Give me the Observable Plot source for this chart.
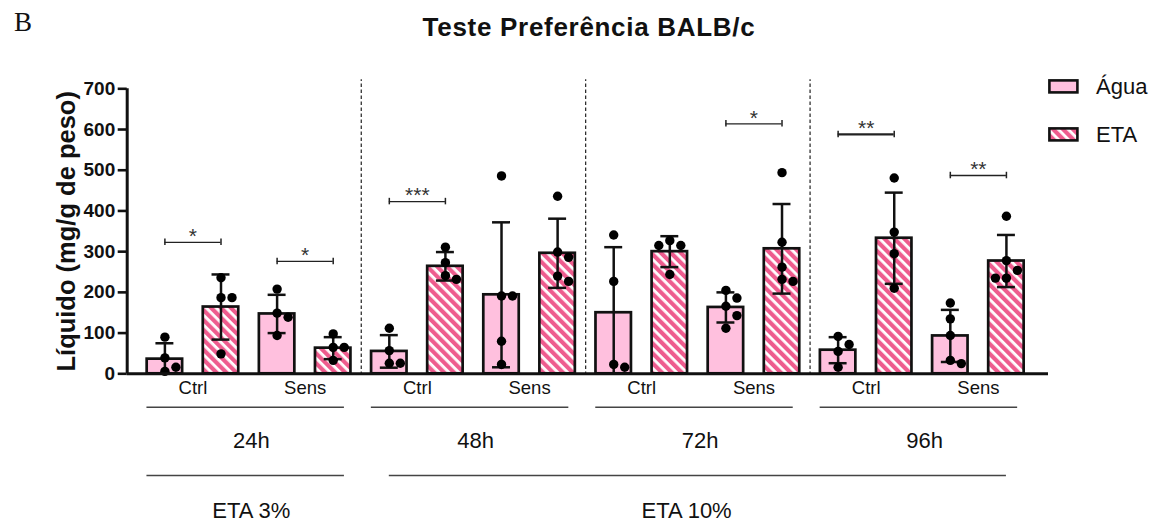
<!DOCTYPE html>
<html><head><meta charset="utf-8">
<script src="https://cdn.jsdelivr.net/npm/d3@7"></script>
<script src="https://cdn.jsdelivr.net/npm/@observablehq/plot@0.6"></script>
<style>
html,body{margin:0;padding:0;background:#fff;}
#wrap{position:relative;width:1156px;height:525px;overflow:hidden;font-family:"Liberation Sans",Arial,sans-serif;}
#panel{position:absolute;left:14px;top:7px;font-family:"Liberation Serif","Times New Roman",serif;font-size:27px;color:#111;}
#title{position:absolute;left:589px;top:12px;transform:translateX(-50%);font-weight:bold;font-size:26px;letter-spacing:0.7px;white-space:nowrap;color:#111;}
#chart{position:absolute;left:0;top:60px;}
#legend{position:absolute;left:1048px;top:74px;font-size:22px;color:#111;}
#legend .row{display:flex;align-items:center;height:25px;margin-bottom:23px;}
#legend svg{margin-right:17px;}
</style></head>
<body><div id="wrap">
<div id="panel">B</div>
<div id="title">Teste Preferência BALB/c</div>
<div id="chart"></div>
<div id="legend"></div>
</div>
<script>
// ---- data ----
const times = ["24h", "48h", "72h", "96h"];
const groups = ["Ctrl", "Sens"];
const series = ["Água", "ETA"];
const concentrations = ["ETA 3%", "ETA 10%"];
const concentrationTimes = [["24h"], ["48h", "72h", "96h"]];
const yTicks = [0, 100, 200, 300, 400, 500, 600, 700];
// bar order: time -> group -> series
const means = [36, 164, 147, 63, 55, 264, 194, 296, 150, 300, 163, 307, 58, 333, 93, 277];
const sds = [39, 80, 47, 27, 40, 35, 178, 85, 161, 38, 37, 110, 32, 112, 64, 64];
const points = [
  [90, 39, 16, 6], [236, 187, 187, 49], [208, 149, 139, 94], [98, 65, 65, 33],
  [112, 57, 26, 26], [311, 273, 241, 232], [486, 191, 191, 80, 23], [436, 299, 286, 240, 227],
  [341, 227, 23, 16], [327, 315, 315, 244], [205, 186, 166, 143, 112], [494, 323, 262, 232, 227],
  [92, 72, 55, 16], [481, 348, 295, 210], [174, 135, 94, 33, 25], [387, 278, 254, 235, 235]
];
const sigTimes = ["24h", "24h", "48h", "72h", "96h", "96h"];
const sigGroups = ["Ctrl", "Sens", "Ctrl", "Sens", "Ctrl", "Sens"];
const sigLabels = ["*", "*", "***", "*", "**", "**"];
const sigValues = [323, 276, 423, 614, 588, 487];

// ---- build tables ----
const bars = [];
times.forEach((t, ti) => groups.forEach((g, gi) => series.forEach((s, si) => {
  const i = ti * 4 + gi * 2 + si;
  bars.push({i, time: t, group: g, series: s, mean: means[i], sd: sds[i],
    lo: means[i] - sds[i], hi: means[i] + sds[i]});
})));
const idx = (t, g, s) => times.indexOf(t) * 4 + groups.indexOf(g) * 2 + series.indexOf(s);

// layout constants (px)
const W = 1156, H = 465;
const mL = 126.7, mR = 108, mT = 28.3, mB = 151.7;
const xDom = [-0.672, 15.75];
const pxPerX = (W - mL - mR) / (xDom[1] - xDom[0]);
const pxPerY = (H - mT - mB) / 700;
const tickLen = 9 / pxPerX; // tick length converted to x units

// simple swarm so that overlapping dots spread sideways (computed, not typed)
const dots = [];
points.forEach((vals, i) => {
  const placed = [];
  [...vals].sort((a, b) => b - a).forEach(v => {
    const cands = [0, 11, -11, 22, -22];
    let off = 0;
    for (const c of cands) {
      const ok = placed.every(p => Math.hypot((p.off - c), (p.v - v) * pxPerY) >= 10);
      if (ok) { off = c; break; }
    }
    placed.push({v, off});
    dots.push({x: i + off / pxPerX, v});
  });
});

const sig = sigLabels.map((lab, k) => ({
  label: lab, value: sigValues[k],
  x1: idx(sigTimes[k], sigGroups[k], "Água"), x2: idx(sigTimes[k], sigGroups[k], "ETA"),
  bold: sigTimes[k] === "96h" && sigGroups[k] === "Ctrl"
}));

const groupLabels = [];
times.forEach((t, ti) => groups.forEach((g, gi) => groupLabels.push({label: g, x: ti * 4 + gi * 2 + 0.5})));
const timeSpans = times.map((t, ti) => ({label: t, first: ti * 4, last: ti * 4 + 3}));
const concSpans = concentrations.map((c, k) => {
  const ids = concentrationTimes[k].map(t => times.indexOf(t));
  return {label: c, first: d3.min(ids) * 4, last: d3.max(ids) * 4 + 3, k};
});
const separators = times.slice(1).map((t, ti) => (ti + 1) * 4 - 0.5);

const PINK = "#ffc0de", HOT = "#ee5c8e";
const FONT = "Liberation Sans, Arial, sans-serif";
const zero = () => 0;

const chart = Plot.plot({
  width: W, height: H,
  marginLeft: mL, marginRight: mR, marginTop: mT, marginBottom: mB,
  x: {type: "linear", domain: xDom, axis: null},
  y: {type: "linear", domain: [0, 700], axis: null},
  style: {fontFamily: FONT, background: "white", overflow: "visible", color: "#111"},
  marks: [
    // dashed separators between time groups
    Plot.ruleX(separators, {y1: -4, y2: 722, stroke: "#222", strokeWidth: 1.2, strokeDasharray: "3.5,2.5"}),
    // bars
    Plot.rectY(bars.filter(d => d.series === "Água"), {x1: d => d.i - 0.316, x2: d => d.i + 0.316, y1: 0, y2: "mean", fill: PINK, stroke: "#111", strokeWidth: 2.7}),
    Plot.rectY(bars.filter(d => d.series === "ETA"), {x1: d => d.i - 0.316, x2: d => d.i + 0.316, y1: 0, y2: "mean", fill: "url(#eta-stripes)", stroke: "#111", strokeWidth: 2.7}),
    // error bars (mean ± SD)
    Plot.ruleX(bars, {x: "i", y1: d => Math.max(0, d.lo), y2: "hi", stroke: "#111", strokeWidth: 2.5}),
    Plot.ruleY(bars, {x1: d => d.i - 0.16, x2: d => d.i + 0.16, y: "hi", stroke: "#111", strokeWidth: 2.5}),
    Plot.ruleY(bars.filter(d => d.lo > 0), {x1: d => d.i - 0.16, x2: d => d.i + 0.16, y: "lo", stroke: "#111", strokeWidth: 2.5}),
    // individual animals
    Plot.dot(dots, {x: "x", y: "v", r: 4.7, fill: "#000"}),
    // y axis: ticks, labels, line
    Plot.ruleY(yTicks, {y: d => d, x1: xDom[0] - tickLen, x2: xDom[0], stroke: "#111", strokeWidth: 2.6}),
    Plot.text(yTicks, {y: d => d, x: xDom[0], dx: -12, text: d => String(d), textAnchor: "end", fontSize: 19, fontWeight: "bold", fill: "#111"}),
    Plot.ruleY([0], {stroke: "#111", strokeWidth: 3}),
    Plot.ruleX([xDom[0]], {stroke: "#111", strokeWidth: 3}),
    Plot.text(["Líquido (mg/g de peso)"], {frameAnchor: "left", textAnchor: "middle", dx: -60, rotate: -90, fontSize: 25.5, fontWeight: "bold", fill: "#111"}),
    // significance brackets
    Plot.ruleY(sig, {x1: "x1", x2: "x2", y: "value", stroke: "#222", strokeWidth: d => d.bold ? 2.4 : 1.3}),
    Plot.ruleX(sig, {x: "x1", y1: d => d.value - 8, y2: d => d.value + 8, stroke: "#222", strokeWidth: 1.5}),
    Plot.ruleX(sig, {x: "x2", y1: d => d.value - 8, y2: d => d.value + 8, stroke: "#222", strokeWidth: 1.5}),
    Plot.text(sig, {x: d => (d.x1 + d.x2) / 2, y: "value", text: "label", dy: -6, fontSize: 21, fill: "#333"}),
    // category labels below axis
    Plot.text(groupLabels, {x: "x", frameAnchor: "bottom", lineAnchor: "middle", dy: 14.5, text: "label", fontSize: 18.5, fill: "#111"}),
    Plot.ruleY(timeSpans, {x1: d => d.first - 0.32, x2: d => d.last + 0.2, y: zero, dy: 33.4, stroke: "#444", strokeWidth: 1.6}),
    Plot.text(timeSpans, {x: d => (d.first + d.last) / 2 + 0.04, frameAnchor: "bottom", lineAnchor: "middle", dy: 67.5, text: "label", fontSize: 22, fill: "#111"}),
    Plot.ruleY(concSpans, {x1: d => d.k === 0 ? d.first - 0.32 : d.first, x2: d => d.k === 0 ? d.last + 0.2 : d.last, y: zero, dy: 101.7, stroke: "#444", strokeWidth: 1.6}),
    Plot.text(concSpans, {x: d => d.k === 0 ? (d.first + d.last) / 2 + 0.04 : (d.first + d.last) / 2 - 0.2, frameAnchor: "bottom", lineAnchor: "middle", dy: 136.7, text: "label", fontSize: 22, fill: "#111"})
  ]
});

// stripe pattern definition for the ETA bars
const patternDef = (id) => `<pattern id="${id}" patternUnits="userSpaceOnUse" width="7" height="7" patternTransform="rotate(-45)">
  <rect width="7" height="7" fill="#ffffff"/><rect width="4.2" height="7" fill="${HOT}"/></pattern>`;
d3.select(chart).insert("defs", ":first-child").html(patternDef("eta-stripes"));
document.getElementById("chart").appendChild(chart);

// legend
const legend = d3.select("#legend");
series.forEach((s) => {
  const row = legend.append("div").attr("class", "row");
  const sw = row.append("svg").attr("width", 31).attr("height", 15);
  sw.append("defs").html(patternDef("eta-stripes-legend"));
  sw.append("rect").attr("x", 1.4).attr("y", 1.4).attr("width", 28).attr("height", 12)
    .attr("fill", s === "Água" ? PINK : "url(#eta-stripes-legend)").attr("stroke", "#111").attr("stroke-width", 2.6);
  row.append("span").text(s);
});
</script>
</body></html>
